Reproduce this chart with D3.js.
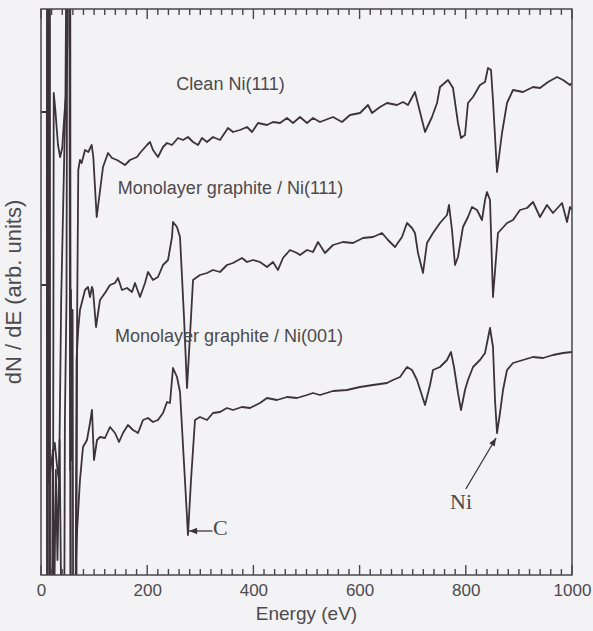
<!DOCTYPE html>
<html>
<head>
<meta charset="utf-8">
<script src="https://cdn.jsdelivr.net/npm/d3@7"></script>
<style>
  html, body { margin: 0; padding: 0; background: #f3f3f5; }
  svg { display: block; }
</style>
</head>
<body>
<svg id="chart" width="593" height="631"></svg>
<script>
// ---- Dados (energia em eV, sinal dN/dE em unidades arbitrárias)
const cleanNi111 = [
  [0,463],[11,463],[11.5,-185],[12.5,-185],[13,725],[16,725],[16.5,-185],[22,-185],[24,482],[27,465],[32,430],[36,418],
  [40,427],[44,460],[47,480],[50,535],[51.5,725],[55,725],[56,-185],[66,-185],[68,255],[70.2,405],[73.4,415],[76.6,412],
  [82.9,425],[89.1,423],[95.5,430],[98.5,418],[104.9,358],[116.8,408],[126.2,422],[133.7,417],[143.1,415],[158.2,410],
  [167.6,415],[180.8,418],[186.4,422],[199.6,430],[205.3,433],[210.9,425],[220.3,418],[229.8,428],[237.3,432],[246.7,430],
  [258,437],[267.4,435],[276.8,438],[286.3,433],[295.7,430],[303.2,437],[312.6,433],[323.9,438],[337.1,435],[352.2,447],
  [361.6,443],[374.8,445],[388,448],[397.4,443],[408.7,452],[425.6,450],[436.9,453],[450.1,452],[463.3,457],[474.6,452],
  [487.8,458],[501,452],[512.2,457],[525.4,453],[549.9,458],[566.9,453],[581.9,460],[600.8,462],[615.8,470],[623.4,462],
  [638.4,468],[651.6,472],[670.4,470],[681.7,473],[691.1,470],[704.3,483],[723.2,443],[736.3,458],[745.8,472],[751.4,488],
  [766.5,495],[775.9,487],[785.3,452],[791,437],[798.5,440],[804.1,472],[813.6,478],[826.7,490],[836.2,493],[841.8,507],
  [847.5,505],[851.2,475],[858.8,403],[868.2,442],[877.6,472],[888.9,485],[907.7,483],[926.6,488],[939.7,487],[954.8,493],
  [971.8,498],[983.1,495],[996.2,490],[1000,492]
];

const graphiteNi111 = [
  [0,290],[11,290],[11.5,725],[14,725],[15,92],[20,115],[26,132],[30,110],[34,93],[38,275],[42,375],[46,475],[49,725],
  [54,725],[56,-185],[64,-185],[67,215],[70,245],[73.4,265],[82.9,285],[88.5,288],[92.3,278],[96,288],[97.9,285],
  [103.6,248],[111.1,275],[120.5,282],[129.9,290],[139.4,292],[145,297],[152.5,285],[162,287],[171.4,283],[177,292],
  [186.4,278],[195.9,292],[201.5,303],[210.9,295],[220.3,298],[229.8,310],[239.2,315],[246.7,338],[248.6,353],[256.1,348],
  [261.8,338],[269.3,258],[275,187],[282.5,258],[286.3,295],[299.4,300],[312.6,302],[323.9,305],[337.1,303],[350.3,310],
  [361.6,312],[378.5,317],[388,313],[399.2,315],[412.4,313],[425.6,308],[436.9,313],[446.3,305],[455.7,317],[468.9,325],
  [482.1,322],[487.8,320],[501,325],[512.2,323],[521.7,333],[534.8,322],[549.9,330],[568.7,333],[587.6,332],[606.4,337],
  [625.2,338],[642.2,342],[653.5,335],[666.7,328],[679.8,338],[689.3,352],[698.7,347],[704.3,342],[710,322],[719.4,302],
  [726.9,332],[738.2,342],[751.4,352],[764.6,360],[768.4,370],[774,345],[779.7,310],[785.3,318],[794.7,348],[804.1,358],
  [811.7,368],[821.1,365],[830.5,355],[836.2,375],[839.9,383],[845.6,375],[851.2,278],[860.6,342],[877.6,352],[888.9,355],
  [902.1,365],[915.3,367],[926.6,373],[939.7,358],[952.9,370],[964.2,362],[981.2,372],[990.6,353],[996.2,368],[1000,365]
];

const graphiteNi001 = [
  [0,-185],[12,-185],[12.5,725],[16.5,725],[17,-185],[20,-185],[22,125],[25,-25],[28,105],[31,15],[35,135],[38,-25],
  [40,-185],[43,-185],[45,155],[48,275],[50,725],[53,725],[55,105],[56.5,285],[58,115],[59.5,265],[61,-185],[64,-185],
  [66,15],[68,45],[73.4,95],[79.1,128],[86.6,135],[92.3,152],[96,165],[99.8,115],[105.5,135],[111.1,138],[120.5,137],
  [129.9,148],[139.4,142],[146.9,133],[154.4,142],[163.8,150],[173.3,145],[182.7,142],[192.1,155],[201.5,157],[210.9,153],
  [220.3,155],[229.8,162],[237.3,173],[242.9,172],[248.6,207],[256.1,198],[261.8,183],[269.3,112],[276.8,40],[282.5,95],
  [290,155],[299.4,158],[312.6,155],[323.9,162],[337.1,163],[350.3,167],[361.6,165],[378.5,168],[393.6,167],[412.4,172],
  [425.6,177],[444.4,175],[463.3,178],[482.1,177],[501,180],[512.2,182],[525.4,180],[549.9,184],[576.3,185],[600.8,188],
  [625.2,190],[651.6,192],[662.9,195],[676.1,198],[689.3,208],[698.7,205],[708.1,195],[723.2,170],[732.6,190],[738.2,205],
  [751.4,208],[764.6,215],[772.1,223],[777.8,208],[785.3,182],[791,165],[798.5,185],[804.1,195],[813.6,208],[826.7,215],
  [836.2,222],[845.6,247],[851.2,228],[855,175],[858.8,142],[864.4,162],[870.1,185],[877.6,205],[888.9,212],[907.7,215],
  [926.6,218],[945.4,217],[964.2,220],[983.1,222],[1000,223]
];

const seriesList = [cleanNi111, graphiteNi111, graphiteNi001];
const seriesNames = ['Clean Ni(111)', 'Monolayer graphite / Ni(111)', 'Monolayer graphite / Ni(001)'];
// posição dos rótulos em coordenadas de dados [E, sinal]
const seriesLabelAt = [[357, 485], [357, 381], [354, 233]];

const xMajorTicks = [0, 200, 400, 600, 800, 1000];
const xMinorStep = 20;

// anotações: texto, posição do texto [E, sinal], início e ponta da seta [E, sinal]
const annotC  = { text: 'C',  at: [324, 40], from: [323, 44], to: [279, 44] };
const annotNi = { text: 'Ni', at: [791, 66], from: [800, 86], to: [857, 137] };

// ---- Tamanho do Gráfico
const margens = { left: 41, right: 21, top: 9, bottom: 56 };
const svg = d3.select('#chart');
const W = +svg.attr('width');
const H = +svg.attr('height');
const width  = W - margens.left - margens.right;
const height = H - margens.top  - margens.bottom;

const lineColor = '#3b3338';
const textColor = '#4d4a4e';
const frameColor = '#4a4649';

// ---- Escalas
const mapX = d3.scaleLinear().domain([0, 1000]).range([0, width]);
const mapY = d3.scaleLinear().domain([0, 566]).range([height, 0]);

const g = svg.append('g')
    .attr('transform', `translate(${margens.left}, ${margens.top})`);

g.append('clipPath').attr('id', 'plotClip')
  .append('rect').attr('x', 0).attr('y', 0).attr('width', width).attr('height', height);

// ---- Curvas
const line = d3.line()
    .x(d => mapX(d[0]))
    .y(d => mapY(d[1]));

g.append('g')
    .attr('clip-path', 'url(#plotClip)')
    .selectAll('path')
    .data(seriesList)
    .join('path')
    .attr('d', line)
    .attr('fill', 'none')
    .attr('stroke', lineColor)
    .attr('stroke-width', 1.8)
    .attr('stroke-linejoin', 'round');

// ---- Eixos (ticks para dentro, em cima e em baixo)
const tickLen = v => xMajorTicks.includes(v) ? 10 : 6;
const allTicks = d3.range(0, 1001, xMinorStep);

g.append('path')
    .attr('d', allTicks.map(v => `M${mapX(v)},${height}v${-tickLen(v)}M${mapX(v)},0v${tickLen(v)}`).join(''))
    .attr('fill', 'none')
    .attr('stroke', frameColor)
    .attr('stroke-width', 1.4);

const axisX = g.append('g').attr('transform', `translate(0, ${height})`)
    .call(d3.axisBottom(mapX).tickValues(xMajorTicks).tickSize(0).tickPadding(9).tickFormat(d3.format('d')));
axisX.select('.domain').remove();
axisX.selectAll('text')
    .attr('font-family', 'Liberation Sans, Arial, sans-serif')
    .attr('font-size', 17)
    .attr('fill', textColor);

// ---- Moldura
g.append('rect')
    .attr('x', 0).attr('y', 0).attr('width', width).attr('height', height)
    .attr('fill', 'none').attr('stroke', frameColor).attr('stroke-width', 1.5);

// ---- Rótulos das curvas
g.append('g').selectAll('text')
    .data(seriesNames)
    .join('text')
    .attr('x', (d, i) => mapX(seriesLabelAt[i][0]))
    .attr('y', (d, i) => mapY(seriesLabelAt[i][1]))
    .attr('text-anchor', 'middle')
    .attr('font-family', 'Liberation Sans, Arial, sans-serif')
    .attr('font-size', 18)
    .attr('fill', textColor)
    .text(d => d);

// ---- Anotações C e Ni
svg.append('defs').append('marker')
    .attr('id', 'arrow')
    .attr('viewBox', '0 0 10 10')
    .attr('refX', 10).attr('refY', 5)
    .attr('markerWidth', 9).attr('markerHeight', 8)
    .attr('markerUnits', 'userSpaceOnUse')
    .attr('orient', 'auto')
  .append('path')
    .attr('d', 'M0,1 L10,5 L0,9 Z')
    .attr('fill', lineColor);

[annotC, annotNi].forEach(a => {
    g.append('line')
        .attr('x1', mapX(a.from[0])).attr('y1', mapY(a.from[1]))
        .attr('x2', mapX(a.to[0])).attr('y2', mapY(a.to[1]))
        .attr('stroke', lineColor).attr('stroke-width', 1.3)
        .attr('marker-end', 'url(#arrow)');
    g.append('text')
        .attr('x', mapX(a.at[0]))
        .attr('y', mapY(a.at[1]))
        .attr('text-anchor', a === annotC ? 'start' : 'middle')
        .attr('font-family', 'Liberation Serif, Times New Roman, serif')
        .attr('font-size', 22)
        .attr('fill', textColor)
        .text(a.text);
});

// ---- Títulos dos eixos
svg.append('text')
    .attr('x', margens.left + width / 2)
    .attr('y', H - 11)
    .attr('text-anchor', 'middle')
    .attr('font-family', 'Liberation Sans, Arial, sans-serif')
    .attr('font-size', 19)
    .attr('fill', textColor)
    .text('Energy (eV)');

svg.append('text')
    .attr('transform', `translate(21, ${margens.top + height / 2}) rotate(-90)`)
    .attr('text-anchor', 'middle')
    .attr('font-family', 'Liberation Sans, Arial, sans-serif')
    .attr('font-size', 22)
    .attr('fill', textColor)
    .text('dN / dE (arb. units)');
</script>
</body>
</html>
